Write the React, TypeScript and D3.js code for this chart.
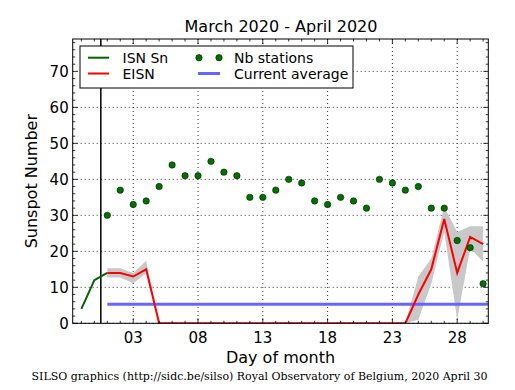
import * as d3 from "d3";

// days of April (day 0 = March 31, day -1 = March 30)
const isnDays = [-1, 0, 1];
const isnValues = [4, 12, 14];

const days = [1, 2, 3, 4, 5, 6, 7, 8, 9, 10, 11, 12, 13, 14, 15, 16, 17, 18, 19, 20, 21, 22, 23, 24, 25, 26, 27, 28, 29, 30];
const stations = [30, 37, 33, 34, 38, 44, 41, 41, 45, 42, 41, 35, 35, 37, 40, 39, 34, 33, 35, 34, 32, 40, 39, 37, 38, 32, 32, 23, 21, 11];
const eisn = [14, 14, 13, 15, 0, 0, 0, 0, 0, 0, 0, 0, 0, 0, 0, 0, 0, 0, 0, 0, 0, 0, 0, 0, 8, 15, 29, 14, 24, 22];
const eisnLow = [12.7, 12.7, 11.1, 13.9, 0, 0, 0, 0, 0, 0, 0, 0, 0, 0, 0, 0, 0, 0, 0, 0, 0, 0, 0, 0, 1, 11, 25.4, 1, 20.9, 17.1];
const eisnHigh = [15.3, 15.3, 14, 17.4, 0, 0, 0, 0, 0, 0, 0, 0, 0, 0, 0, 0, 0, 0, 0, 0, 0, 0, 0, 0, 13, 18, 32.4, 25.4, 27, 27];

const currentAverage = 5.3;
const monthBoundary = 0.5;

const xTicks = [3, 8, 13, 18, 23, 28];
const yTicks = [0, 10, 20, 30, 40, 50, 60, 70];

const W = 515;
const H = 390;
const m = { left: 72.7, right: 488.3, top: 39, bottom: 323.3 };

export default function App() {
  const x = d3.scaleLinear().domain([-1.67, 30.4]).range([m.left, m.right]);
  const y = d3.scaleLinear().domain([0, 79]).range([m.bottom, m.top]);

  const xMinor = d3.range(-1, 31).filter((d) => !xTicks.includes(d));
  const yMinor = d3.range(0, 79, 2).filter((d) => d % 10 !== 0);

  const line = d3
    .line<number>()
    .x((_, i) => x(days[i]))
    .y((d) => y(d));
  const isnLine = d3
    .line<number>()
    .x((_, i) => x(isnDays[i]))
    .y((d) => y(d));
  const band = d3
    .area<number>()
    .x((_, i) => x(days[i]))
    .y0((d) => y(d))
    .y1((_, i) => y(eisnHigh[i]));

  const font = "DejaVu Sans, sans-serif";

  return (
    <svg
      width={W}
      height={H}
      style={{ position: "absolute", left: 0, top: 0, background: "#fff" }}
      fontFamily={font}
    >
      <defs>
        <clipPath id="plot">
          <rect x={m.left} y={m.top} width={m.right - m.left} height={m.bottom - m.top} />
        </clipPath>
      </defs>

      <text x={(m.left + m.right) / 2 + 0.5} y={32} textAnchor="middle" fontSize={16}>
        March 2020 - April 2020
      </text>

      {/* grid */}
      <g stroke="#000" strokeWidth={0.8} strokeDasharray="1,3">
        {xTicks.map((d) => (
          <line key={"gx" + d} x1={x(d)} x2={x(d)} y1={m.top} y2={m.bottom} />
        ))}
        {yTicks.map((d) => (
          <line key={"gy" + d} x1={m.left} x2={m.right} y1={y(d)} y2={y(d)} />
        ))}
      </g>

      <g clipPath="url(#plot)">
        <path d={band(eisnLow) ?? ""} fill="#c8c8c8" />
        <line
          x1={x(days[0])}
          x2={m.right}
          y1={y(currentAverage)}
          y2={y(currentAverage)}
          stroke="#6666ff"
          strokeWidth={3}
        />
        <line
          x1={x(monthBoundary)}
          x2={x(monthBoundary)}
          y1={m.top}
          y2={m.bottom}
          stroke="#000"
          strokeWidth={1.5}
        />
        <path d={isnLine(isnValues) ?? ""} fill="none" stroke="#006400" strokeWidth={2} />
        <path d={line(eisn) ?? ""} fill="none" stroke="#ff0000" strokeWidth={2} />
        {stations.map((v, i) => (
          <circle key={i} cx={x(days[i])} cy={y(v)} r={3.2} fill="#007000" stroke="#002000" strokeWidth={0.6} />
        ))}
      </g>

      {/* ticks, inward on all sides */}
      <g stroke="#000" strokeWidth={0.8}>
        {xTicks.map((d) => (
          <g key={"tx" + d}>
            <line x1={x(d)} x2={x(d)} y1={m.bottom} y2={m.bottom - 5} />
            <line x1={x(d)} x2={x(d)} y1={m.top} y2={m.top + 5} />
          </g>
        ))}
        {xMinor.map((d) => (
          <g key={"mx" + d}>
            <line x1={x(d)} x2={x(d)} y1={m.bottom} y2={m.bottom - 2.5} />
            <line x1={x(d)} x2={x(d)} y1={m.top} y2={m.top + 2.5} />
          </g>
        ))}
        {yTicks.map((d) => (
          <g key={"ty" + d}>
            <line x1={m.left} x2={m.left + 5} y1={y(d)} y2={y(d)} />
            <line x1={m.right} x2={m.right - 5} y1={y(d)} y2={y(d)} />
          </g>
        ))}
        {yMinor.map((d) => (
          <g key={"my" + d}>
            <line x1={m.left} x2={m.left + 2.5} y1={y(d)} y2={y(d)} />
            <line x1={m.right} x2={m.right - 2.5} y1={y(d)} y2={y(d)} />
          </g>
        ))}
      </g>

      <rect
        x={m.left}
        y={m.top}
        width={m.right - m.left}
        height={m.bottom - m.top}
        fill="none"
        stroke="#000"
        strokeWidth={1}
      />

      {/* tick labels */}
      <g fontSize={15}>
        {xTicks.map((d) => (
          <text key={"lx" + d} x={x(d)} y={m.bottom + 20} textAnchor="middle">
            {d3.format("02d")(d)}
          </text>
        ))}
        {yTicks.map((d) => (
          <text key={"ly" + d} x={m.left - 4} y={y(d) + 5.5} textAnchor="end">
            {d}
          </text>
        ))}
      </g>

      <text x={(m.left + m.right) / 2} y={363} textAnchor="middle" fontSize={16}>
        Day of month
      </text>
      <text
        transform={`translate(37,${(m.top + m.bottom) / 2}) rotate(-90)`}
        textAnchor="middle"
        fontSize={16}
      >
        Sunspot Number
      </text>

      {/* legend */}
      <g fontSize={14}>
        <rect x={80} y={46} width={273} height={42} fill="#fff" stroke="#000" strokeWidth={1} />
        <line x1={88} x2={109} y1={57.7} y2={57.7} stroke="#006400" strokeWidth={2} />
        <text x={122.5} y={62.8}>ISN Sn</text>
        <line x1={88} x2={109} y1={73.5} y2={73.5} stroke="#ff0000" strokeWidth={2} />
        <text x={122.5} y={78.8}>EISN</text>
        <circle cx={199} cy={57.7} r={3.2} fill="#007000" stroke="#002000" strokeWidth={0.6} />
        <circle cx={219} cy={57.7} r={3.2} fill="#007000" stroke="#002000" strokeWidth={0.6} />
        <text x={234} y={62.8}>Nb stations</text>
        <line x1={198} x2={220} y1={73.5} y2={73.5} stroke="#6666ff" strokeWidth={3} />
        <text x={234} y={78.8}>Current average</text>
      </g>

      <text x={259.5} y={380} textAnchor="middle" fontSize={11} fontFamily="DejaVu Serif, serif">
        SILSO graphics (http://sidc.be/silso) Royal Observatory of Belgium, 2020 April 30
      </text>
    </svg>
  );
}
